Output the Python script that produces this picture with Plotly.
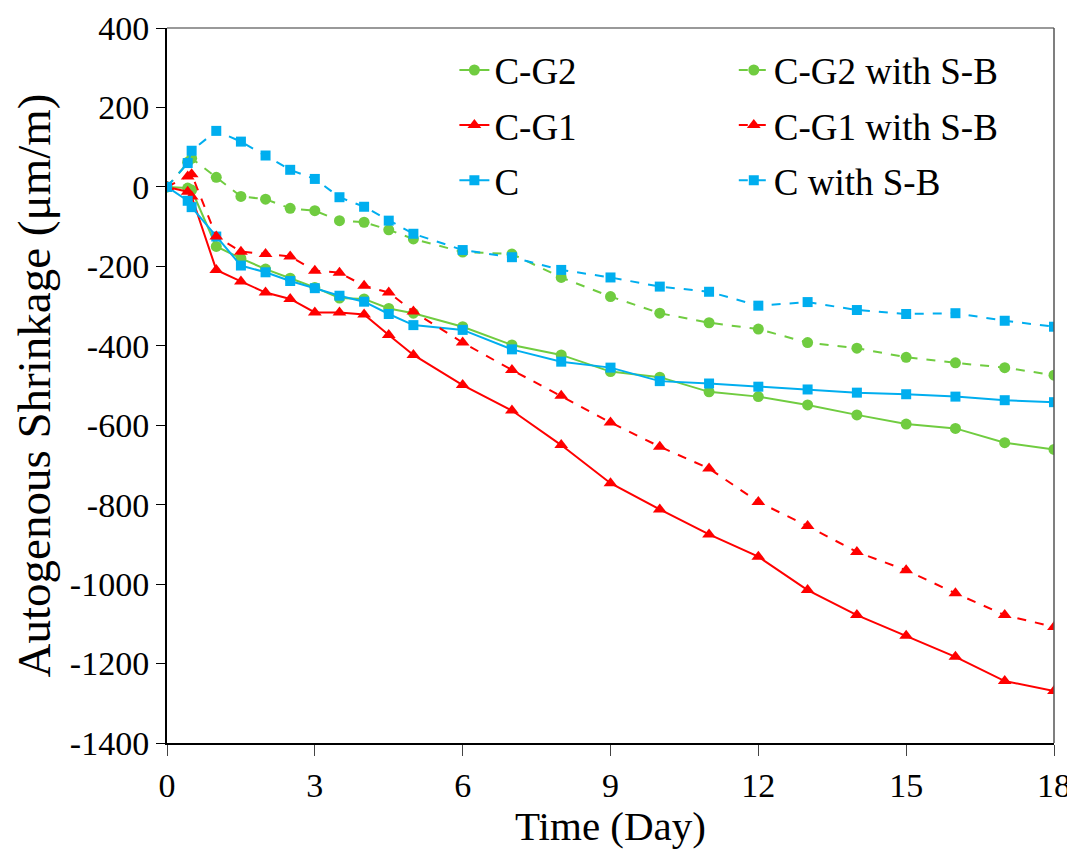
import plotly.graph_objects as go

days = [0, 0.42, 0.5, 1, 1.5, 2, 2.5, 3, 3.5, 4, 4.5, 5, 6, 7, 8, 9, 10, 11, 12, 13, 14, 15, 16, 17, 18]

c_g2 = [0, -3, -8, -150, -180, -207, -230, -253, -280, -282, -306, -318, -352, -398,
        -423, -465, -479, -516, -528, -549, -574, -597, -608, -644, -661]
c_g1 = [0, -12, -24, -209, -238, -266, -282, -316, -316, -321, -373, -423, -499, -563,
        -650, -746, -812, -875, -931, -1015, -1078, -1130, -1183, -1244, -1269]
c = [0, -35, -51, -125, -198, -215, -237, -255, -274, -289, -320, -348, -360, -409,
     -440, -455, -489, -495, -503, -510, -518, -522, -528, -537, -542]
c_g2_sb = [0, 62, 72, 24, -24, -31, -54, -60, -85, -89, -108, -131, -164, -169,
           -228, -276, -318, -342, -358, -392, -406, -429, -443, -455, -474]
c_g1_sb = [0, 26, 32, -125, -163, -169, -175, -211, -216, -249, -266, -314, -392, -461,
           -526, -593, -654, -709, -793, -854, -919, -965, -1023, -1078, -1108]
c_sb = [0, 60, 91, 141, 114, 79, 43, 20, -26, -50, -85, -118, -159, -177,
        -209, -228, -251, -264, -299, -290, -310, -320, -318, -337, -352]

x_ticks = [0, 3, 6, 9, 12, 15, 18]
y_ticks = [400, 200, 0, -200, -400, -600, -800, -1000, -1200, -1400]
y_ticktext = ["400", "200", "0", "-200", "-400", "-600", "-800", "-1000", "-1200", "-1400"]

GREEN = "#70CC40"
RED = "#FF0000"
BLUE = "#00AEEF"
FONT = "Liberation Serif"

series = [
    ("C-G2", c_g2, GREEN, "solid", "circle", 11, "legend"),
    ("C-G1", c_g1, RED, "solid", "triangle-up", 12, "legend"),
    ("C", c, BLUE, "solid", "square", 10, "legend"),
    ("C-G2 with S-B", c_g2_sb, GREEN, "dash", "circle", 11, "legend2"),
    ("C-G1 with S-B", c_g1_sb, RED, "dash", "triangle-up", 12, "legend2"),
    ("C with S-B", c_sb, BLUE, "dash", "square", 10, "legend2"),
]

fig = go.Figure()
for i, (name, vals, col, dash, sym, size, leg) in enumerate(series):
    fig.add_trace(go.Scatter(
        x=days, y=vals, name=name, mode="lines+markers",
        line=dict(color=col, width=2, dash=dash),
        marker=dict(symbol=sym, size=size, color=col),
        legend=leg, legendgroup=f"g{i}",
    ))

leg_common = dict(
    font=dict(family=FONT, size=37, color="black"),
    bgcolor="rgba(0,0,0,0)", borderwidth=0,
    tracegroupgap=4, itemwidth=30,
    xanchor="left", yanchor="top", orientation="v",
)

fig.update_layout(
    width=1067, height=841,
    paper_bgcolor="white", plot_bgcolor="white",
    margin=dict(l=159, r=21, t=20, b=106),
    font=dict(family=FONT, size=34, color="black"),
    showlegend=True,
    legend=dict(x=0.324, y=0.984, **leg_common),
    legend2=dict(x=0.639, y=0.984, **leg_common),
    xaxis=dict(
        range=[0, 18], tickvals=x_ticks, automargin=False,
        showline=True, linecolor="black", linewidth=2,
        ticks="outside", ticklen=11, tickcolor="#444", tickwidth=1.2,
        showgrid=False, zeroline=False,
        tickfont=dict(family=FONT, size=34),
        title=dict(text="Time (Day)", font=dict(family=FONT, size=41), standoff=6),
    ),
    yaxis=dict(
        range=[-1400, 400], tickvals=y_ticks, ticktext=y_ticktext, automargin=False,
        showline=True, linecolor="black", linewidth=2,
        ticks="outside", ticklen=9, tickcolor="black", tickwidth=1.2,
        showgrid=False, zeroline=False,
        tickfont=dict(family=FONT, size=34),
        title=dict(text="Autogenous Shrinkage (μm/m)", font=dict(family=FONT, size=47), standoff=6),
    ),
    yaxis2=dict(
        range=[-1400, 400], tickvals=y_ticks, overlaying="y", side="left", anchor="x",
        ticks="inside", ticklen=10, tickcolor="black", tickwidth=1.2, automargin=False,
        showticklabels=False, showline=False, showgrid=False, zeroline=False,
    ),
    shapes=[
        dict(type="line", xref="paper", yref="paper", x0=0, x1=1, y0=1, y1=1,
             line=dict(color="#777", width=1.5)),
        dict(type="line", xref="paper", yref="paper", x0=1, x1=1, y0=0, y1=1,
             line=dict(color="#555", width=1.5)),
    ],
)

fig.write_html("out.html")
